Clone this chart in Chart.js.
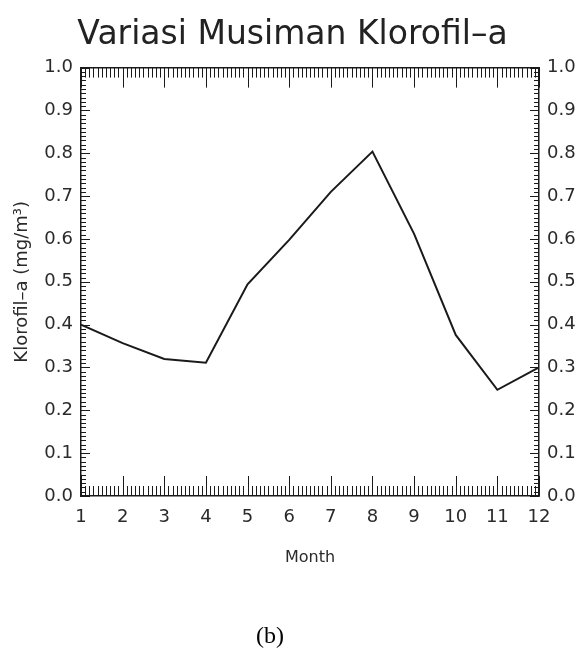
<!DOCTYPE html>
<html>
<head>
<meta charset="utf-8">
<title>Variasi Musiman Klorofil-a</title>
<script src="https://cdn.jsdelivr.net/npm/chart.js@4/dist/chart.umd.min.js"></script>
<style>
  html, body { margin: 0; padding: 0; background: #fff; }
  #wrap { width: 585px; height: 657px; }
</style>
</head>
<body>
<div id="wrap"><canvas id="c" width="585" height="657"></canvas></div>
<script>
// Monthly mean chlorophyll-a (mg/m^3)
const months = [1, 2, 3, 4, 5, 6, 7, 8, 9, 10, 11, 12];
const chlorophyll = [0.400, 0.357, 0.320, 0.311, 0.494, 0.598, 0.710, 0.804, 0.612, 0.376, 0.248, 0.300];
const yTickValues = [0.0, 0.1, 0.2, 0.3, 0.4, 0.5, 0.6, 0.7, 0.8, 0.9, 1.0];
const xTickValues = months;

const INK = '#1a1a1a';
const LABEL = '#2a2a2a';
const SANS = "'DejaVu Sans', sans-serif";

// Inward-pointing major and minor tick marks on all four sides of the frame
const frameTicks = {
  id: 'frameTicks',
  afterDraw(chart) {
    const { ctx, chartArea: a, scales: { x, y } } = chart;
    ctx.save();
    ctx.strokeStyle = INK;
    ctx.lineWidth = 1;
    ctx.beginPath();
    const xSub = 10, ySub = 10;
    for (let i = 0; i < xTickValues.length; i++) {
      const v0 = xTickValues[i];
      const v1 = i + 1 < xTickValues.length ? xTickValues[i + 1] : null;
      const steps = v1 === null ? 1 : xSub;
      for (let k = 0; k < steps; k++) {
        const v = v1 === null ? v0 : v0 + (v1 - v0) * k / xSub;
        const px = Math.round(x.getPixelForValue(v)) + 0.5;
        const len = k === 0 ? 20 : 10;
        ctx.moveTo(px, a.bottom); ctx.lineTo(px, a.bottom - len);
        ctx.moveTo(px, a.top); ctx.lineTo(px, a.top + len);
      }
    }
    for (let i = 0; i < yTickValues.length; i++) {
      const v0 = yTickValues[i];
      const v1 = i + 1 < yTickValues.length ? yTickValues[i + 1] : null;
      const steps = v1 === null ? 1 : ySub;
      for (let k = 0; k < steps; k++) {
        const v = v1 === null ? v0 : v0 + (v1 - v0) * k / ySub;
        const py = Math.round(y.getPixelForValue(v)) + 0.5;
        const len = k === 0 ? 9 : 5;
        ctx.moveTo(a.left, py); ctx.lineTo(a.left + len, py);
        ctx.moveTo(a.right, py); ctx.lineTo(a.right - len, py);
      }
    }
    ctx.stroke();
    ctx.restore();
  }
};

// Figure panel caption under the plot
const panelCaption = {
  id: 'panelCaption',
  afterDraw(chart) {
    const { ctx } = chart;
    ctx.save();
    ctx.fillStyle = '#000';
    ctx.font = "24px 'Liberation Serif', serif";
    ctx.textAlign = 'center';
    ctx.textBaseline = 'middle';
    ctx.fillText('(b)', 270, 637);
    ctx.restore();
  }
};

const frameScale = (position, extra) => Object.assign({
  type: 'linear',
  position,
  grid: { display: true, drawOnChartArea: false, drawTicks: false },
  border: { display: true, color: INK, width: 1.5 },
}, extra);

new Chart(document.getElementById('c'), {
  type: 'line',
  data: {
    datasets: [{
      label: 'Klorofil-a',
      data: months.map((m, i) => ({ x: m, y: chlorophyll[i] })),
      borderColor: INK,
      borderWidth: 2,
      pointRadius: 0,
      tension: 0,
      xAxisID: 'x',
      yAxisID: 'y'
    }]
  },
  options: {
    responsive: false,
    animation: false,
    devicePixelRatio: 1,
    layout: { padding: 0 },
    plugins: {
      legend: { display: false },
      tooltip: { enabled: false },
      title: {
        display: true,
        text: 'Variasi Musiman Klorofil\u2013a',
        color: '#222',
        font: { family: SANS, size: 33, weight: 'normal', lineHeight: 1.2 },
        padding: { top: 16, bottom: 12 }
      }
    },
    scales: {
      x: frameScale('bottom', {
        min: 1, max: 12,
        afterBuildTicks: s => { s.ticks = xTickValues.map(v => ({ value: v })); },
        ticks: { color: LABEL, font: { family: SANS, size: 18 }, padding: 11, maxRotation: 0,
                 callback: v => String(v) },
        title: { display: true, text: 'Month', color: LABEL,
                 font: { family: SANS, size: 16 }, padding: { top: 0, bottom: 90 } },
        afterFit: s => { s.height = 161; }
      }),
      x2: frameScale('top', {
        min: 1, max: 12,
        ticks: { display: false },
        afterFit: s => { s.height = 0; }
      }),
      y: frameScale('left', {
        min: 0, max: 1,
        afterBuildTicks: s => { s.ticks = yTickValues.map(v => ({ value: v })); },
        ticks: { color: LABEL, font: { family: SANS, size: 18 }, padding: 8,
                 callback: v => v.toFixed(1) },
        title: { display: true, text: 'Klorofil\u2013a (mg/m\u00b3)', color: LABEL,
                 font: { family: SANS, size: 18 }, padding: { top: 12, bottom: 0 } },
        afterFit: s => { s.width = 81; }
      }),
      y2: frameScale('right', {
        min: 0, max: 1,
        afterBuildTicks: s => { s.ticks = yTickValues.map(v => ({ value: v })); },
        ticks: { color: LABEL, font: { family: SANS, size: 18 }, padding: 8,
                 callback: v => v.toFixed(1) },
        afterFit: s => { s.width = 46; }
      })
    }
  },
  plugins: [frameTicks, panelCaption]
});
</script>
</body>
</html>
